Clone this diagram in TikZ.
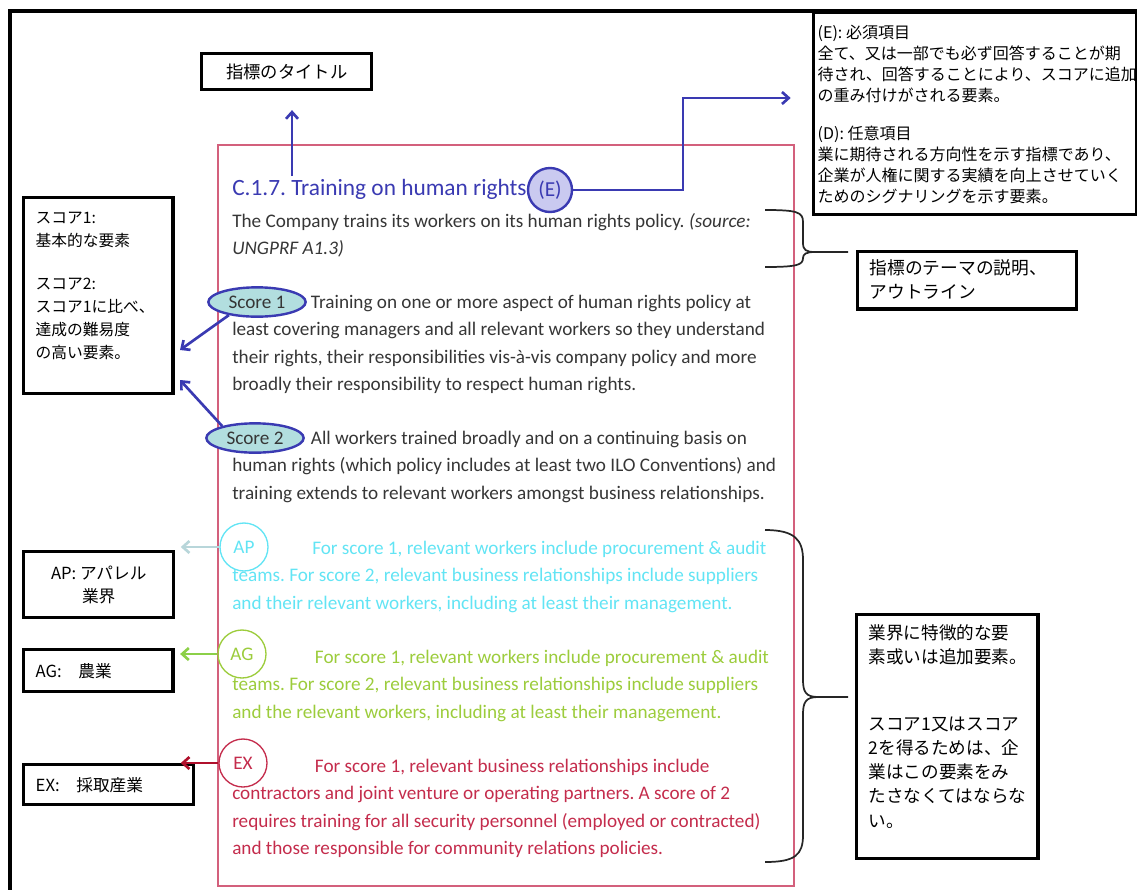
\documentclass[tikz,border=0pt]{standalone}
\usepackage{fontspec}
\setmainfont{Carlito}
\newfontfamily\jp{Noto Sans CJK JP}
\usepackage{xcolor}
\usepackage{tikz}
\usetikzlibrary{positioning, arrows.meta, shapes.geometric}

\definecolor{idxblue}{HTML}{3A3AB2}
\definecolor{framepink}{HTML}{D3607C}
\definecolor{bodygrey}{HTML}{363636}
\definecolor{apcyan}{HTML}{62E4F4}
\definecolor{aparrow}{HTML}{B8D6DA}
\definecolor{aggreen}{HTML}{9CCC3C}
\definecolor{agarrow}{HTML}{8CD048}
\definecolor{exred}{HTML}{C42C4C}
\definecolor{exarrow}{HTML}{B0102C}
\definecolor{scorefill}{HTML}{B2DEDF}
\definecolor{efill}{HTML}{CACAF0}

\newcommand{\notetext}[3]{\parbox[c][#2][t]{#1}{#3}}
\frenchspacing

\begin{document}
\begin{tikzpicture}[x=0.75pt, y=-0.75pt, >={Straight Barb[length=5pt,width=9pt]},
  note/.style={draw, line width=2.6pt, inner xsep=9pt, inner ysep=6pt, font=\jp},
  body/.style={anchor=north west, align=left, inner sep=0pt, font=\fontsize{14.4}{20.5}\selectfont},
  scoretag/.style={ellipse, draw=idxblue, line width=1.8pt, fill=scorefill, minimum width=73pt, minimum height=22pt, inner sep=0pt, text=bodygrey, font=\fontsize{14.4}{16}\selectfont},
  sectag/.style={circle, draw, line width=1pt, minimum size=36pt, inner sep=0pt, font=\fontsize{14.4}{16}\selectfont},
  link/.style={->, line width=2pt},
  bracket/.style={line width=1.3pt, black!85}]
\useasboundingbox (0,0) rectangle (1137,889);
% Rahmen
\draw[line width=2.4pt] (10,11) rectangle (1150,900);
\draw[framepink, line width=1.5pt] (218,145) rectangle (794,886);

% Erlaeuterungen
\node[note, anchor=north west, inner xsep=3pt, inner ysep=9pt] (ebox) at (812,11) {\notetext{236pt}{133.5pt}{\fontsize{12}{15.75}\selectfont
(E): 必須項目\\
全て、又は一部でも必ず回答することが期\\
待され、回答することにより、スコアに追加\\
の重み付けがされる要素。\\[12.75pt]
(D): 任意項目\\
業に期待される方向性を示す指標であり、\\
企業が人権に関する実績を向上させていく\\
ためのシグナリングを示す要素。}};
\node[note, anchor=north west, inner ysep=0pt, minimum width=127.5pt, minimum height=27pt, font={\jp\fontsize{13}{15}\selectfont}] (titlebox) at (200,52) {指標のタイトル};
\node[note, anchor=north west, inner ysep=11pt] (scorebox) at (22,196) {\notetext{94pt}{125pt}{\fontsize{11.8}{17.25}\selectfont
スコア1:\\
基本的な要素\\[15pt]
スコア2:\\
スコア1に比べ、\\
達成の難易度\\
の高い要素。}};
\node[note, anchor=north west] (themebox) at (856,250) {\notetext{146pt}{31pt}{\fontsize{13.3}{18}\selectfont
指標のテーマの説明、\\
アウトライン}};
\node[note, anchor=north west, inner ysep=7.5pt] (sectorbox) at (855,613) {\notetext{118pt}{168pt}{\fontsize{13.2}{18.2}\selectfont
業界に特徴的な要\\
素或いは追加要素。\\[31.5pt]
スコア1又はスコア\\
2を得るためは、企\\
業はこの要素をみ\\
たさなくてはならな\\
い。}};
\node[note, anchor=north west, inner ysep=0pt, minimum width=112.5pt, minimum height=49.5pt, align=center, font={\jp\fontsize{12.5}{17.5}\selectfont}] (apbox) at (22,550) {AP: アパレル\\業界};
\node[note, anchor=north west, inner ysep=0pt, text width=94pt, minimum height=31.5pt, align=left, font={\jp\fontsize{12.5}{14}\selectfont}] (agbox) at (22,648) {AG:\quad 農業};
\node[note, anchor=north west, inner ysep=0pt, text width=109.5pt, minimum height=30pt, align=left, font={\jp\fontsize{12.5}{14}\selectfont}] (exbox) at (22,763) {EX:\quad 採取産業};

% Indikatortext
\node[body, text=idxblue, font=\fontsize{17.5}{20}\selectfont] (title) at (232,179) {C.1.7. Training on human rights};
\node[circle, draw=idxblue, line width=1.8pt, fill=efill, minimum size=33pt, inner sep=0pt, text=idxblue, font=\fontsize{16}{17}\selectfont] (ecirc) at (550,190) {(E)};
\node[body, text=bodygrey] (intro) at (232,213) {The Company trains its workers on its human rights policy. \textit{(source:}\\
\textit{UNGPRF A1.3)}};
\node[body, text=bodygrey] (sc1txt) at (232,295) {\hspace*{59pt}Training on one or more aspect of human rights policy at\\
least covering managers and all relevant workers so they understand\\
their rights, their responsibilities vis-à-vis company policy and more\\
broadly their responsibility to respect human rights.};
\node[scoretag] (sc1) at (257,302) {Score 1};
\node[body, text=bodygrey] (sc2txt) at (232,431) {\hspace*{59pt}All workers trained broadly and on a continuing basis on\\
human rights (which policy includes at least two ILO Conventions) and\\
training extends to relevant workers amongst business relationships.};
\node[scoretag] (sc2) at (255,438) {Score 2};
\node[body, text=apcyan] (aptxt) at (232,541) {\hspace*{60pt}For score 1, relevant workers include procurement \& audit\\
teams. For score 2, relevant business relationships include suppliers\\
and their relevant workers, including at least their management.};
\node[sectag, draw=apcyan, text=apcyan] (apc) at (244,547) {AP};
\node[body, text=aggreen] (agtxt) at (232,650) {\hspace*{62pt}For score 1, relevant workers include procurement \& audit\\
teams. For score 2, relevant business relationships include suppliers\\
and the relevant workers, including at least their management.};
\node[sectag, draw=aggreen, text=aggreen] (agc) at (242,654) {AG};
\node[body, text=exred] (extxt) at (232,759) {\hspace*{62pt}For score 1, relevant business relationships include\\
contractors and joint venture or operating partners. A score of 2\\
requires training for all security personnel (employed or contracted)\\
and those responsible for community relations policies.};
\node[sectag, draw=exred, text=exred] (exc) at (243,763) {EX};

% Pfeile
\coordinate (ttlfoot) at (292,176);
\coordinate (elbow) at (683,98);
\coordinate (s1tip) at (180,350);
\coordinate (s2tip) at (180,380);
\draw[link, idxblue, shorten >=14pt] (ttlfoot) -- (ttlfoot |- titlebox.south);
\draw[link, idxblue, shorten >=16pt] (ecirc.east) -| (elbow) -- (elbow -| ebox.west);
\draw[link, idxblue] (sc1.205) -- (s1tip);
\draw[link, idxblue] (sc2.160) -- (s2tip);
\draw[link, aparrow, shorten >=4pt] (apc.west) -- (apc.west -| apbox.east);
\draw[link, agarrow, shorten >=4pt] (agc.west) -- (agc.west -| agbox.east);
\draw[link, exarrow, shorten >=4pt] (exc.west) -- (exc.west -| apbox.east);

% Klammern
\coordinate (brtop) at (765,210);
\coordinate (brbot) at (765,267);
\coordinate (brtip) at (848,252);
\draw[bracket] (brtop) .. controls (797,210) and (803,212) .. (803,222) -- (803,243)
  .. controls (803,250) and (806,252) .. (815,252) -- (brtip)
  (815,252) .. controls (806,252) and (803,254) .. (803,258)
  .. controls (803,265) and (797,267) .. (brbot);
\coordinate (bigtop) at (765,530);
\coordinate (bigbot) at (765,862);
\coordinate (bigtip) at (848,697);
\draw[bracket] (bigtop) .. controls (795,530) and (803,540) .. (803,560) -- (803,680)
  .. controls (803,692) and (806,697) .. (818,697) -- (bigtip)
  (818,697) .. controls (806,697) and (803,702) .. (803,714) -- (803,835)
  .. controls (803,855) and (795,862) .. (bigbot);
\end{tikzpicture}
\end{document}
